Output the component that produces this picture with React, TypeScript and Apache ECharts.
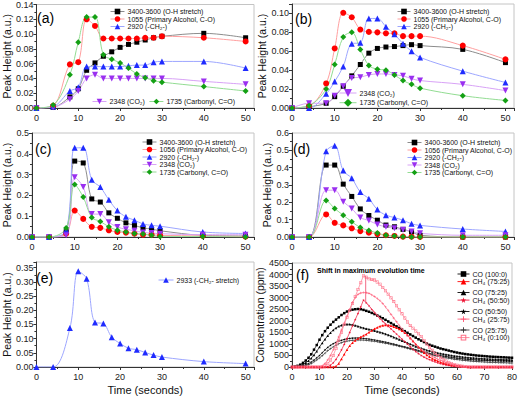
import React, { useEffect, useRef } from "react";
import * as echarts from "echarts";

// ---------- data: panels (a)-(e) ----------
const TIME_AE = [0, 4, 8, 10, 12, 14, 16, 18, 20, 22, 24, 26, 28, 30, 40, 50];

const NAMES_AB = [
  "3400-3600 (O-H stretch)",
  "1055 (Primary Alcohol, C-O)",
  "2920 (-CH₂-)",
  "2348 (CO₂)",
  "1735 (Carbonyl, C=O)",
];
const NAMES_CD = [
  "3400-3600 (O-H stretch)",
  "1056 (Primary Alcohol, C-O)",
  "2920 (-CH₂-)",
  "2348 (CO₂)",
  "1735 (Carbonyl, C=O)",
];
const NAME_E = "2933 (-CH₂- stretch)";

const A_OH = [0, 0.001, 0.015, 0.026, 0.051, 0.061, 0.07, 0.076, 0.082, 0.086, 0.089, 0.092, 0.095, 0.097, 0.101, 0.095];
const A_ALC = [0, 0.003, 0.059, 0.062, 0.12, 0.111, 0.094, 0.094, 0.094, 0.094, 0.094, 0.095, 0.095, 0.097, 0.095, 0.09];
const A_CH2 = [0, 0.002, 0.023, 0.028, 0.056, 0.056, 0.056, 0.056, 0.056, 0.057, 0.058, 0.058, 0.062, 0.063, 0.063, 0.054];
const A_CO2 = [0, 0.001, 0.012, 0.023, 0.04, 0.045, 0.04, 0.04, 0.04, 0.04, 0.04, 0.04, 0.04, 0.04, 0.036, 0.032];
const A_CARB = [0, 0.004, 0.045, 0.089, 0.123, 0.123, 0.072, 0.066, 0.061, 0.054, 0.046, 0.041, 0.037, 0.035, 0.029, 0.023];

const B_OH = [0, 0.0014, 0.005, 0.012, 0.023, 0.034, 0.046, 0.058, 0.063, 0.0645, 0.065, 0.066, 0.067, 0.066, 0.062, 0.048];
const B_ALC = [0, 0.002, 0.026, 0.063, 0.1007, 0.096, 0.083, 0.0805, 0.08, 0.079, 0.079, 0.076, 0.076, 0.076, 0.066, 0.0514];
const B_CH2 = [0, 0.0, 0.015, 0.028, 0.044, 0.068, 0.069, 0.0947, 0.0947, 0.086, 0.078, 0.068, 0.06, 0.0535, 0.039, 0.027];
const B_CO2 = [0, 0.005, 0.005, 0.013, 0.023, 0.0316, 0.0326, 0.035, 0.036, 0.036, 0.035, 0.034, 0.031, 0.029, 0.025, 0.0184];
const B_CARB = [0, 0.0025, 0.02, 0.046, 0.075, 0.08, 0.062, 0.045, 0.041, 0.04, 0.035, 0.029, 0.025, 0.021, 0.013, 0.008];

const C_OH = [0, 0, 0.025, 0.365, 0.356, 0.183, 0.168, 0.116, 0.09, 0.068, 0.056, 0.044, 0.038, 0.03, 0.008, 0.005];
const C_ALC = [0, 0, 0.016, 0.127, 0.087, 0.049, 0.044, 0.032, 0.024, 0.021, 0.016, 0.011, 0.011, 0.008, 0.005, 0.002];
const C_CH2 = [0, 0, 0.032, 0.429, 0.429, 0.275, 0.24, 0.179, 0.127, 0.097, 0.081, 0.063, 0.056, 0.052, 0.024, 0.017];
const C_CO2 = [0, 0, 0.008, 0.287, 0.24, 0.11, 0.11, 0.071, 0.048, 0.037, 0.03, 0.022, 0.019, 0.016, 0.011, 0.011];
const C_CARB = [0, 0, 0.043, 0.252, 0.192, 0.094, 0.075, 0.049, 0.033, 0.024, 0.017, 0.014, 0.008, 0.002, 0.002, 0.0];

const D_OH = [0, 0, 0.415, 0.415, 0.305, 0.234, 0.162, 0.124, 0.097, 0.069, 0.059, 0.044, 0.03, 0.01, 0, 0];
const D_ALC = [0, 0, 0.13, 0.082, 0.067, 0.05, 0.034, 0.025, 0.017, 0.01, 0.006, 0.002, 0.002, 0, 0, 0];
const D_CH2 = [0, 0, 0.495, 0.526, 0.383, 0.339, 0.259, 0.221, 0.158, 0.126, 0.112, 0.097, 0.076, 0.067, 0.046, 0.032];
const D_CO2 = [0, 0, 0.27, 0.27, 0.204, 0.164, 0.112, 0.095, 0.072, 0.059, 0.05, 0.042, 0.032, 0.021, 0.01, 0.01];
const D_CARB = [0, 0, 0.211, 0.164, 0.126, 0.088, 0.055, 0.038, 0.023, 0.01, 0.006, 0.002, 0, 0, 0, 0];

const E_CH2 = [0, 0, 0.137, 0.337, 0.311, 0.157, 0.153, 0.105, 0.083, 0.066, 0.061, 0.051, 0.042, 0.035, 0.019, 0.012];

// ---------- data: panel (f) ----------
const TIME_F = [
  0, 1, 2, 3, 4, 5, 6, 7, 8, 9, 10, 11, 12, 13, 14, 15, 16, 17, 18, 19,
  20, 21, 22, 23, 24, 25, 26, 27, 28, 29, 30, 31, 32, 33, 34, 35, 36, 37, 38, 39,
  40, 41, 42, 43, 44, 45, 46, 47, 48, 49, 50, 51, 52, 53, 54, 55, 56, 57, 58, 59,
  60, 61, 62, 63, 64, 65, 66, 67, 68, 69, 70, 71, 72, 73, 74, 75, 76, 77, 78, 79, 80,
];
const NAMES_F = [
  "CO (100:0)", "CO (75:25)", "CO (50:50)", "CO (25:75)",
  "CH₄ (75:25)", "CH₄ (50:50)", "CH₄ (25:75)", "CH₄ (0:100)",
];
const F_CO_100 = [
  0, 20, 50, 100, 180, 280, 400, 550, 750, 950, 1180, 1380, 1550, 1700, 1830, 1950, 2050, 2150, 2250, 2330,
  2400, 2450, 2480, 2500, 2510, 2500, 2470, 2430, 2390, 2340, 2290, 2230, 2170, 2110, 2040, 1970, 1900, 1830, 1760, 1690,
  1620, 1550, 1480, 1410, 1340, 1270, 1200, 1140, 1080, 1020, 960, 920, 880, 840, 800, 770, 740, 710, 680, 650,
  625, 600, 580, 560, 545, 530, 515, 500, 490, 480, 470, 460, 450, 443, 436, 430, 424, 418, 412, 406, 400,
];
const F_CO_75 = [
  0, 10, 30, 60, 110, 180, 270, 380, 520, 680, 860, 1040, 1200, 1350, 1480, 1600, 1690, 1760, 1810, 1840,
  1850, 1845, 1830, 1800, 1760, 1720, 1690, 1660, 1630, 1600, 1570, 1540, 1505, 1470, 1430, 1390, 1340, 1290, 1240, 1190,
  1140, 1090, 1040, 990, 940, 890, 850, 810, 770, 730, 700, 670, 640, 610, 585, 560, 540, 520, 500, 480,
  465, 450, 435, 420, 410, 400, 390, 380, 372, 364, 357, 350, 344, 338, 333, 328, 323, 318, 314, 310, 306,
];
const F_CO_50 = [
  0, 0, 10, 30, 60, 100, 150, 220, 300, 400, 500, 620, 740, 850, 940, 1010, 1070, 1120, 1160, 1195,
  1220, 1240, 1250, 1255, 1255, 1250, 1240, 1225, 1210, 1190, 1170, 1150, 1125, 1100, 1075, 1050, 1020, 990, 960, 930,
  900, 870, 840, 810, 780, 750, 715, 680, 650, 620, 590, 565, 540, 515, 490, 470, 450, 430, 412, 395,
  380, 365, 352, 340, 330, 320, 311, 303, 296, 290, 284, 279, 274, 270, 266, 262, 259, 256, 253, 250, 248,
];
const F_CO_25 = [
  0, 0, 0, 10, 30, 60, 100, 150, 220, 300, 390, 490, 600, 700, 790, 870, 940, 1000, 1050, 1090,
  1120, 1140, 1155, 1165, 1170, 1170, 1165, 1155, 1140, 1125, 1110, 1090, 1070, 1050, 1030, 1005, 980, 955, 930, 900,
  870, 840, 810, 780, 750, 715, 680, 645, 610, 580, 550, 520, 490, 465, 440, 415, 395, 375, 355, 338,
  322, 307, 293, 280, 268, 257, 247, 238, 230, 222, 215, 209, 203, 198, 193, 189, 185, 181, 178, 175, 172,
];
const F_CH4_75 = [
  0, 0, 0, 0, 0, 0, 0, 0, 0, 0, 0, 0, 0, 0, 0, 0, 30, 150, 350, 550,
  750, 920, 1050, 1150, 1230, 1300, 1360, 1420, 1500, 1580, 1650, 1710, 1760, 1800, 1820, 1810, 1780, 1740, 1700, 1640,
  1570, 1480, 1380, 1260, 1130, 990, 860, 730, 620, 520, 440, 370, 310, 255, 210, 170, 135, 105, 80, 60,
  42, 28, 18, 10, 5, 0, 0, 0, 0, 0, 0, 0, 0, 0, 0, 0, 0, 0, 0, 0, 0,
];
const F_CH4_50 = [
  0, 0, 0, 0, 0, 0, 0, 0, 0, 0, 0, 0, 0, 20, 80, 180, 330, 520, 740, 980,
  1230, 1500, 1780, 2050, 2320, 2600, 2900, 2780, 2650, 2500, 2350, 2220, 2100, 1980, 1870, 1760, 1650, 1540, 1430, 1320,
  1210, 1100, 990, 880, 770, 670, 580, 500, 430, 370, 320, 270, 225, 185, 150, 120, 95, 72, 52, 36,
  24, 14, 8, 4, 0, 0, 0, 0, 0, 0, 0, 0, 0, 0, 0, 0, 0, 0, 0, 0, 0,
];
const F_CH4_25 = [
  0, 0, 0, 0, 0, 0, 0, 0, 0, 0, 0, 50, 150, 300, 500, 750, 1000, 1300, 1600, 1900,
  2200, 2500, 2800, 3000, 3150, 3200, 3220, 3210, 3190, 3120, 3050, 2960, 2870, 2750, 2600, 2440, 2280, 2120, 1960, 1800,
  1650, 1500, 1360, 1230, 1100, 980, 870, 770, 680, 600, 530, 460, 400, 340, 290, 240, 195, 155, 120, 90,
  65, 45, 30, 20, 10, 5, 0, 0, 0, 0, 0, 0, 0, 0, 0, 0, 0, 0, 0, 0, 0,
];
const F_CH4_0 = [
  0, 0, 0, 0, 0, 0, 0, 0, 0, 0, 0, 0, 50, 150, 300, 500, 800, 1150, 1500, 1850,
  2150, 2450, 2750, 3050, 3350, 3650, 3950, 3880, 3820, 3790, 3760, 3680, 3580, 3440, 3300, 3150, 3000, 2830, 2650, 2480,
  2300, 2120, 1950, 1800, 1680, 1560, 1440, 1320, 1150, 1000, 850, 720, 600, 500, 410, 330, 260, 200, 150, 110,
  80, 55, 35, 20, 10, 5, 0, 0, 0, 0, 0, 0, 0, 0, 0, 0, 0, 0, 0, 0, 0,
];
const F_SHIFT_T = [26.8, 26.8, 34.3];
const F_SHIFT_V = [3950, 2800, 1820];

// ---------- styles ----------
const FONT = 'Arial, "Liberation Sans", Helvetica, sans-serif';
const AD_STYLE = [
  { symbol: "rect", color: "#000000", line: "#8c8c8c", size: 5, rotate: 0 },
  { symbol: "circle", color: "#ff0000", line: "#ff9f9f", size: 6, rotate: 0 },
  { symbol: "triangle", color: "#1f2bff", line: "#9da6ff", size: 6, rotate: 0 },
  { symbol: "triangle", color: "#9a2ff0", line: "#d8a2f6", size: 6, rotate: 180 },
  { symbol: "diamond", color: "#14a014", line: "#92dc92", size: 6, rotate: 0 },
];
const STAR = "path://M50,0 L61,35 L98,35 L68,57 L79,91 L50,70 L21,91 L32,57 L2,35 L39,35 Z";
const PLUS = "path://M42,0 H58 V42 H100 V58 H58 V100 H42 V58 H0 V42 H42 Z";
const OPEN_SQ = "path://M0,0 H100 V100 H0 Z M18,18 V82 H82 V18 Z";
const F_STYLE = [
  { symbol: "rect", color: "#000000", line: "#222222" },
  { symbol: "triangle", color: "#000000", line: "#222222" },
  { symbol: STAR, color: "#000000", line: "#222222" },
  { symbol: PLUS, color: "#333333", line: "#555555" },
  { symbol: "triangle", color: "#ff0000", line: "#ff2020" },
  { symbol: STAR, color: "#ee1030", line: "#f03050" },
  { symbol: PLUS, color: "#ff5070", line: "#ff7088" },
  { symbol: OPEN_SQ, color: "#ff6f86", line: "#ff8a9c" },
];

const pair = (xs: number[], ys: number[]) => xs.map((t, i) => [t, ys[i]]);

function adSeries(gi: number, names: string[], arrs: number[][], xs: number[]) {
  return arrs.map((arr, k) => {
    const st = AD_STYLE[k];
    return {
      type: "line",
      name: names[k],
      xAxisIndex: gi,
      yAxisIndex: gi,
      data: pair(xs, arr),
      smooth: 0.35,
      symbol: st.symbol,
      symbolSize: st.size,
      symbolRotate: st.rotate,
      itemStyle: { color: st.color },
      lineStyle: { color: st.line, width: 1 },
      z: 3,
    };
  });
}

function legendItems(names: string[], idx: number[], styles: any[]) {
  return idx.map((k) => ({
    name: names[k],
    itemStyle: { color: styles[k].color, borderColor: styles[k].color, borderWidth: 0 },
    lineStyle: { color: styles[k].line, width: 1 },
  }));
}

function legendBox(extra: any) {
  return {
    orient: "vertical",
    padding: 0,
    itemWidth: 14,
    itemHeight: 7,
    itemGap: 0.5,
    selectedMode: false,
    textStyle: { fontSize: 7, color: "#111", fontFamily: FONT, padding: [0, 0, 0, -2] },
    ...extra,
  };
}

const GRIDS = [
  { left: 32, top: 4, width: 222, height: 104 },
  { left: 292, top: 4, width: 222, height: 104 },
  { left: 32, top: 133, width: 222, height: 104 },
  { left: 292, top: 133, width: 222, height: 104 },
  { left: 32, top: 262, width: 222, height: 105 },
  { left: 292, top: 263, width: 222, height: 104 },
];

function xAxis(gi: number, max: number, withName: boolean) {
  return {
    type: "value",
    gridIndex: gi,
    min: 0,
    max,
    interval: 10,
    name: withName ? "Time (seconds)" : "",
    nameLocation: "middle",
    nameGap: 17,
    nameTextStyle: { fontSize: 11, color: "#111", fontFamily: FONT },
    axisLine: { show: true, onZero: false, lineStyle: { color: "#333", width: 1 } },
    axisTick: { show: true, length: 3, lineStyle: { color: "#333" } },
    minorTick: { show: true, splitNumber: 2, length: 2, lineStyle: { color: "#333" } },
    splitLine: { show: false },
    axisLabel: { fontSize: 9, color: "#222", margin: 5, showMaxLabel: max === 80, fontFamily: FONT },
  };
}

function yAxis(gi: number, max: number, interval: number, digits: number, hideMax: boolean, name: string, gap: number) {
  return {
    type: "value",
    gridIndex: gi,
    min: 0,
    max,
    interval,
    name,
    nameLocation: "middle",
    nameGap: gap,
    nameTextStyle: { fontSize: 10.5, color: "#111", fontFamily: FONT },
    axisLine: { show: true, onZero: false, lineStyle: { color: "#333", width: 1 } },
    axisTick: { show: true, length: 3, lineStyle: { color: "#333" } },
    minorTick: { show: true, splitNumber: 2, length: 2, lineStyle: { color: "#333" } },
    splitLine: { show: false },
    axisLabel: {
      fontSize: 9,
      color: "#222",
      margin: 3,
      fontFamily: FONT,
      showMaxLabel: !hideMax,
      formatter: (v: number) => (digits >= 0 ? v.toFixed(digits) : String(Math.round(v))),
    },
  };
}

function panelLabel(text: string, x: number, y: number) {
  return {
    type: "text",
    x,
    y,
    style: { text, fontSize: 14, fill: "#000", fontFamily: FONT, align: "left", verticalAlign: "middle" },
    z: 10,
  };
}

export default function App() {
  const ref = useRef<HTMLDivElement>(null);
  useEffect(() => {
    if (!ref.current) return;
    const chart = echarts.init(ref.current, undefined, { renderer: "svg" });

    const series: any[] = [
      ...adSeries(0, NAMES_AB, [A_OH, A_ALC, A_CH2, A_CO2, A_CARB], TIME_AE),
      ...adSeries(1, NAMES_AB, [B_OH, B_ALC, B_CH2, B_CO2, B_CARB], TIME_AE),
      ...adSeries(2, NAMES_CD, [C_OH, C_ALC, C_CH2, C_CO2, C_CARB], TIME_AE),
      ...adSeries(3, NAMES_CD, [D_OH, D_ALC, D_CH2, D_CO2, D_CARB], TIME_AE),
      {
        type: "line",
        name: NAME_E,
        xAxisIndex: 4,
        yAxisIndex: 4,
        data: pair(TIME_AE, E_CH2),
        smooth: 0.35,
        symbol: "triangle",
        symbolSize: 6,
        itemStyle: { color: "#1f2bff" },
        lineStyle: { color: "#9da6ff", width: 1 },
      },
    ];
    const fArrs = [F_CO_100, F_CO_75, F_CO_50, F_CO_25, F_CH4_75, F_CH4_50, F_CH4_25, F_CH4_0];
    fArrs.forEach((arr, k) => {
      const st = F_STYLE[k];
      series.push({
        type: "line",
        name: NAMES_F[k],
        xAxisIndex: 5,
        yAxisIndex: 5,
        data: pair(TIME_F, arr),
        symbol: st.symbol,
        symbolSize: k === 7 ? 3 : 2.5,
        itemStyle: { color: st.color, borderColor: st.color, borderWidth: 0 },
        lineStyle: { color: st.line, width: 0.8 },
        z: k >= 4 ? 4 : 3,
      });
    });
    series.push({
      type: "line",
      name: "shift",
      xAxisIndex: 5,
      yAxisIndex: 5,
      data: pair(F_SHIFT_T, F_SHIFT_V),
      symbol: "none",
      lineStyle: { color: "#f05a78", width: 0.9 },
      z: 5,
    });

    const E_STYLE = [{ symbol: "triangle", color: "#1f2bff", line: "#9da6ff" }];

    const option: any = {
      animation: false,
      backgroundColor: "#ffffff",
      textStyle: { fontFamily: FONT },
      grid: GRIDS.map((g) => ({ ...g, show: true, borderColor: "#c4c4c4", borderWidth: 1, backgroundColor: "transparent" })),
      xAxis: [
        xAxis(0, 52, false),
        xAxis(1, 52, false),
        xAxis(2, 52, false),
        xAxis(3, 52, false),
        xAxis(4, 52, true),
        xAxis(5, 80, true),
      ],
      yAxis: [
        yAxis(0, 0.14, 0.02, 2, false, "Peak Height (a.u.)", 19),
        yAxis(1, 0.11, 0.02, 2, true, "Peak Height (a.u.)", 19),
        yAxis(2, 0.5, 0.1, 1, false, "Peak Height (a.u.)", 19),
        yAxis(3, 0.6, 0.1, 1, false, "Peak Height (a.u.)", 19),
        yAxis(4, 0.37, 0.05, 2, true, "Peak Height (a.u.)", 19),
        yAxis(5, 4500, 500, -1, false, "Concentration (ppm)", 20),
      ],
      legend: [
        legendBox({ left: 110, top: 8, data: legendItems(NAMES_AB, [0, 1, 2], AD_STYLE) }),
        legendBox({ left: 92, top: 98, orient: "horizontal", itemGap: 4, data: legendItems(NAMES_AB, [3, 4], AD_STYLE) }),
        legendBox({ left: 397, top: 8, itemWidth: 13, data: legendItems(NAMES_AB, [0, 1, 2], AD_STYLE) }),
        legendBox({ left: 339, top: 89, itemWidth: 17, itemHeight: 10, itemGap: 1.7, data: legendItems(NAMES_AB, [3, 4], AD_STYLE) }),
        legendBox({ left: 142, top: 138.5, data: legendItems(NAMES_CD, [0, 1, 2, 3, 4], AD_STYLE) }),
        legendBox({ left: 407, top: 139, data: legendItems(NAMES_CD, [0, 1, 2, 3, 4], AD_STYLE) }),
        legendBox({ left: 158, top: 276.5, itemWidth: 15, data: legendItems([NAME_E], [0], E_STYLE) }),
        legendBox({ left: 457, top: 270.5, itemWidth: 12, itemGap: 0.6, data: legendItems(NAMES_F, [0, 4], F_STYLE) }),
        legendBox({ left: 457, top: 289, itemWidth: 12, itemGap: 0.6, data: legendItems(NAMES_F, [1, 5], F_STYLE) }),
        legendBox({ left: 457, top: 308, itemWidth: 12, itemGap: 0.6, data: legendItems(NAMES_F, [2, 6], F_STYLE) }),
        legendBox({ left: 457, top: 326.5, itemWidth: 12, itemGap: 0.6, data: legendItems(NAMES_F, [3, 7], F_STYLE) }),
      ],
      graphic: [
        panelLabel("(a)", 37, 17.5),
        panelLabel("(b)", 295, 18.5),
        panelLabel("(c)", 35, 149),
        panelLabel("(d)", 293, 148.5),
        panelLabel("(e)", 36, 277.5),
        panelLabel("(f)", 296, 275),
        {
          type: "text",
          x: 317,
          y: 270.5,
          style: { text: "Shift in maximum evolution time", fontSize: 7, fontWeight: "bold", fill: "#000", fontFamily: FONT, align: "left", verticalAlign: "middle" },
          z: 10,
        },
      ],
      series,
    };
    chart.setOption(option);
    return () => chart.dispose();
  }, []);

  return (
    <div
      ref={ref}
      style={{ position: "fixed", left: 0, top: 0, width: 520, height: 400, background: "#fff" }}
    />
  );
}
